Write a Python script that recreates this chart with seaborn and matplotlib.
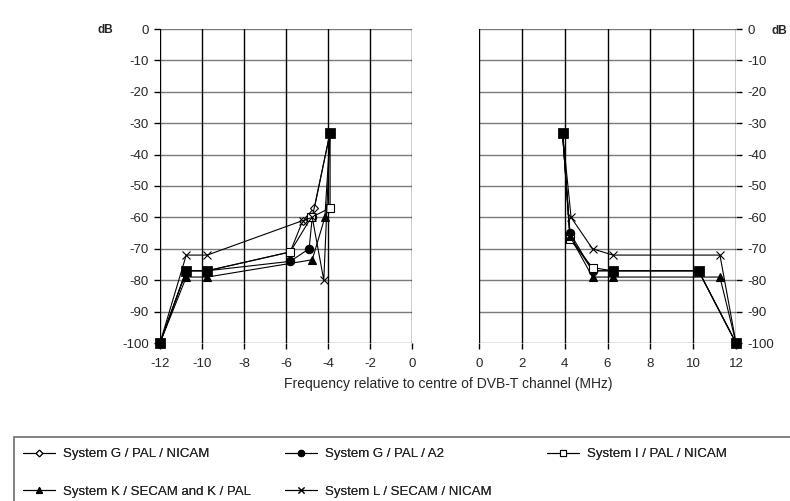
import matplotlib
matplotlib.use("Agg")
import matplotlib.pyplot as plt
import seaborn as sns
import pandas as pd
from matplotlib.lines import Line2D
from matplotlib.patches import Rectangle

sns.set_style("white")
plt.rcParams['font.family'] = ['Liberation Sans', 'DejaVu Sans']
plt.rcParams['axes.unicode_minus'] = False

# ---- data (frequency MHz, level dB) ----
g_nicam_f = [-12, -10.75, -9.75, -5.8, -5.2, -4.65, -3.9, 3.9, 4.25, 5.3, 6.25, 10.25, 12]
g_nicam_db = [-100, -77, -77, -71, -61, -57, -33, -33, -66, -77, -77, -77, -100]

g_a2_f = [-12, -10.75, -9.75, -5.8, -4.9, -4.75, -3.9, 3.9, 4.25, 5.3, 6.25, 10.25, 12]
g_a2_db = [-100, -77, -77, -74, -70, -60, -33, -33, -65, -77, -77, -77, -100]

i_nicam_f = [-12, -10.75, -9.75, -5.8, -4.8, -3.9, -3.9, 3.9, 4.25, 5.3, 6.25, 10.25, 12]
i_nicam_db = [-100, -77, -77, -71, -60, -57, -33, -33, -67, -76, -77, -77, -100]

k_secam_f = [-12, -10.75, -9.75, -4.75, -4.15, -3.9, 3.9, 4.25, 5.3, 6.25, 11.25, 12]
k_secam_db = [-100, -79, -79, -73.5, -60, -33, -33, -66, -79, -79, -79, -100]

l_secam_f = [-12, -10.75, -9.75, -5.2, -4.75, -4.2, -3.9, 3.9, 4.3, 5.3, 6.25, 11.25, 12]
l_secam_db = [-100, -72, -72, -61, -60, -80, -33, -33, -60, -70, -72, -72, -100]

mask_f = [-12, -10.75, -9.75, -3.9, 3.9, 6.25, 10.25, 12]
mask_db = [-100, -77, -77, -33, -33, -77, -77, -100]

series = [
    ("System G / PAL / NICAM", g_nicam_f, g_nicam_db, dict(marker="D", markersize=4.5, markerfacecolor="white")),
    ("System G / PAL / A2", g_a2_f, g_a2_db, dict(marker="o", markersize=6, markerfacecolor="black")),
    ("System I / PAL / NICAM", i_nicam_f, i_nicam_db, dict(marker="s", markersize=6, markerfacecolor="white")),
    ("System K / SECAM and K / PAL", k_secam_f, k_secam_db, dict(marker="^", markersize=6, markerfacecolor="black")),
    ("System L / SECAM / NICAM", l_secam_f, l_secam_db, dict(marker="x", markersize=6, markerfacecolor="black")),
]

x_ticks_left = [-12, -10, -8, -6, -4, -2, 0]
x_ticks_right = [0, 2, 4, 6, 8, 10, 12]
y_ticks = [0, -10, -20, -30, -40, -50, -60, -70, -80, -90, -100]

fig = plt.figure(figsize=(7.9, 5.01), dpi=100)
ax_l = fig.add_axes([160/790, 1-343/501, (412-160)/790, (343-29)/501])
ax_r = fig.add_axes([479/790, 1-343/501, (736-479)/790, (343-29)/501])

for ax, side in [(ax_l, "left"), (ax_r, "right")]:
    for name, f, db, style in series:
        df = pd.DataFrame({"f": f, "db": db})
        df = df[df.f < 0] if side == "left" else df[df.f > 0]
        sns.lineplot(data=df, x="f", y="db", sort=False, estimator=None, ax=ax,
                     color="black", linewidth=0.8, markeredgecolor="black",
                     markeredgewidth=0.8, clip_on=False, zorder=4, **style)
    dm = pd.DataFrame({"f": mask_f, "db": mask_db})
    dm = dm[dm.f < 0] if side == "left" else dm[dm.f > 0]
    sns.scatterplot(data=dm, x="f", y="db", ax=ax, marker="s", s=45, color="black",
                    edgecolor="black", clip_on=False, zorder=5, legend=False)

    ax.set_ylim(-100, 0)
    ax.set_yticks(y_ticks)
    ax.set_xlabel("")
    ax.set_ylabel("")
    for yt in y_ticks:
        ax.axhline(yt, color="#7a7a7a", linewidth=1.0, zorder=1)
    ax.tick_params(axis="both", labelsize=9.5, length=4, width=1.0, color="black", direction="out")
    ax.tick_params(axis="x", pad=7)
    ax.tick_params(axis="y", pad=4)
    for s in ax.spines.values():
        s.set_visible(False)

ax_l.set_xlim(-12, 0)
ax_l.set_xticks(x_ticks_left)
for xt in x_ticks_left:
    ax_l.axvline(xt, color="black", linewidth=1.0, zorder=1)
ax_l.tick_params(axis="y", left=True, labelleft=True)
ax_l.tick_params(axis="x", bottom=True)

ax_r.set_xlim(0, 12)
ax_r.set_xticks(x_ticks_right)
for xt in x_ticks_right:
    ax_r.axvline(xt, color="black", linewidth=1.0, zorder=1)
ax_r.yaxis.tick_right()
ax_r.tick_params(axis="y", right=True, labelright=True, left=False, labelleft=False)
ax_r.tick_params(axis="x", bottom=True)

fig.text(97/790, 1-30/501, "dB", fontsize=8.5, fontweight="bold", ha="left", va="center")
fig.text(772/790, 1-31/501, "dB", fontsize=8.5, fontweight="bold", ha="left", va="center")
fig.text(448/790, 1-384/501, "Frequency relative to centre of DVB-T channel (MHz)",
         fontsize=10, ha="center", va="center")

# legend frame
fig.patches.append(Rectangle((14/790, -0.1), 1.0, 1-437/501 + 0.1, transform=fig.transFigure,
                             facecolor="none", edgecolor="#777777", linewidth=1.3, clip_on=False))

handles = []
for name, f, db, style in series:
    handles.append(Line2D([], [], color="black", linewidth=0.8, markeredgecolor="black",
                          markeredgewidth=0.8,
                          **{**style, "markersize": style["markersize"] * 0.75}))
labels = [s[0] for s in series]
columns = [([0, 3], 23), ([1, 4], 285), ([2], 547)]
for idx, xpos in columns:
    lg = fig.legend([handles[i] for i in idx], [labels[i] for i in idx],
                    loc="upper left", bbox_to_anchor=(xpos/790, 1-448/501),
                    frameon=False, fontsize=9.5, handlelength=2.4, handletextpad=0.6,
                    borderaxespad=0, borderpad=0, labelspacing=1.9)
    fig.add_artist(lg)

fig.savefig("out.png", dpi=100)
